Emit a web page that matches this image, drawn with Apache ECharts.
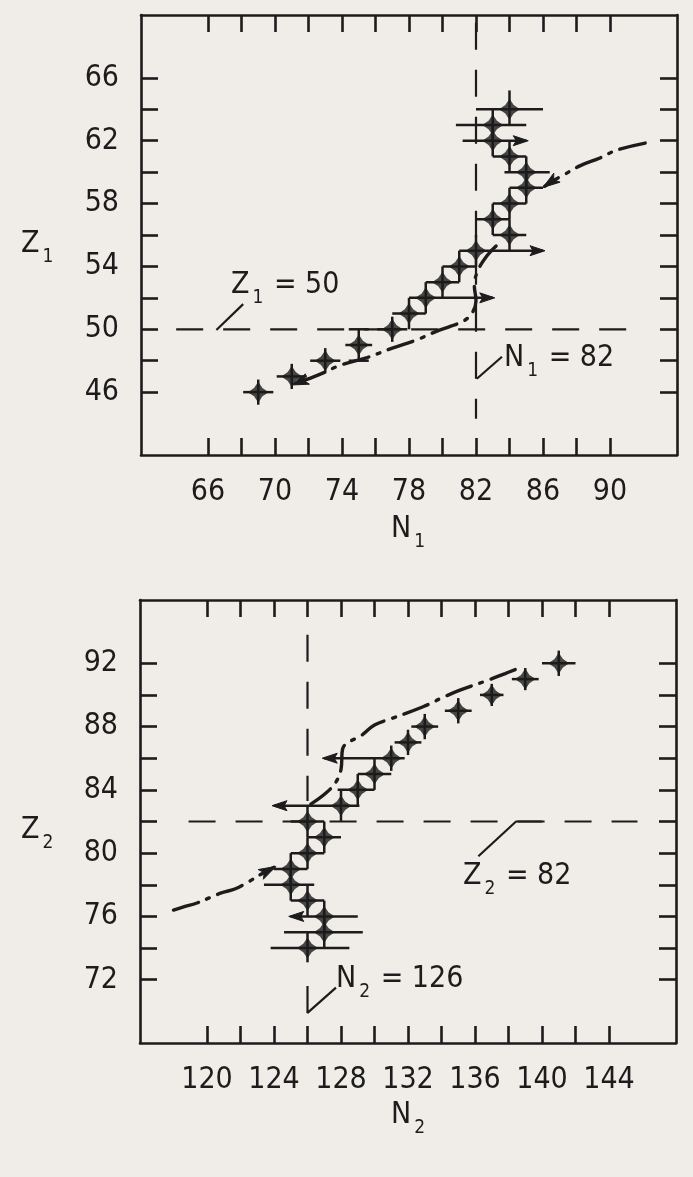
<!DOCTYPE html>
<html>
<head>
<meta charset="utf-8">
<script src="https://cdn.jsdelivr.net/npm/echarts@6/dist/echarts.min.js"></script>
<style>
  html, body { margin: 0; padding: 0; background: #f0ece7; }
  #chart { width: 693px; height: 1177px; }
</style>
</head>
<body>
<div id="chart"></div>
<script>
// ---- Upper panel: fragment 1 (N1, Z1) ----
const n1 = [69, 71, 73, 75, 77, 78, 79, 80, 81, 82, 84, 83, 84, 85, 85, 84, 83, 83, 84];
const z1 = [46, 47, 48, 49, 50, 51, 52, 53, 54, 55, 56, 57, 58, 59, 60, 61, 62, 63, 64];
const n1Lo = [68.1, 70.1, 72.1, 74.2, 76.1, 77, 78, 79, 80, 81, 83, 82, 83, 84, 83.7, 83, 81.2, 80.8, 82];
const n1Hi = [69.9, 71.9, 73.9, 75.8, 77.9, 79, 83, 81, 82, 86, 85, 84, 85, 86, 86.4, 85, 85, 85, 86];
const z1Lo = [45.2, 46.2, 47.2, 48, 49.2, 50, 51, 52, 53, 54, 55, 56, 57, 58, 59, 60, 61, 62, 63];
const z1Hi = [46.8, 47.8, 48.8, 50, 50.8, 52, 53, 54, 55, 56, 57, 58, 59, 60, 61, 62, 63, 64, 65.2];
const n1Arrow = [0, 0, 0, 0, 0, 0, 1, 0, 0, 1, 0, 0, 0, 0, 0, 0, 1, 0, 0];
const z1Cap = [0, 0, 0, 1, 0, 0, 0, 0, 0, 0, 0, 0, 0, 0, 0, 0, 0, 0, 0];

// calculated paths (dash-dot)
const curve1aN = [92.1, 90.4, 89.4, 88.2, 87.2, 86.5, 86.1];
const curve1aZ = [61.85, 61.4, 60.9, 60.4, 59.8, 59.4, 59.1];
const curve1bN = [83.2, 82.6, 82.1, 81.9, 82.0, 81.8, 81.3, 80.5, 79.6, 78.4, 77.0, 75.5, 74.0, 72.6, 71.1];
const curve1bZ = [55.3, 54.6, 53.7, 52.8, 51.8, 51.1, 50.55, 50.2, 49.85, 49.3, 48.8, 48.2, 47.75, 47.1, 46.5];

const x1Ticks = [66, 68, 70, 72, 74, 76, 78, 80, 82, 84, 86, 88, 90];
const x1Labels = [66, 70, 74, 78, 82, 86, 90];
const y1Ticks = [46, 48, 50, 52, 54, 56, 58, 60, 62, 64, 66];
const y1Labels = [46, 50, 54, 58, 62, 66];
const shellZ1 = 50;
const shellN1 = 82;

// ---- Lower panel: fragment 2 (N2, Z2) ----
const n2 = [126, 127, 127, 126, 125, 125, 126, 127, 126, 128, 129, 130, 131, 132, 133, 135, 137, 139, 141];
const z2 = [74, 75, 76, 77, 78, 79, 80, 81, 82, 83, 84, 85, 86, 87, 88, 89, 90, 91, 92];
const n2Lo = [123.8, 124.6, 125, 125, 123.4, 124, 125, 126, 125, 124, 127.8, 129, 127, 131.2, 132.2, 134.2, 136.3, 138.2, 140];
const n2Hi = [128.5, 129.3, 129, 127, 126.4, 126, 127, 128, 127, 129.1, 130, 131, 131.8, 132.8, 133.8, 135.8, 137.7, 139.8, 142];
const z2Lo = [73.1, 74, 75, 76, 77, 78, 79, 80, 81, 82, 83, 84, 85.2, 86.2, 87.2, 88.2, 89.3, 90.3, 91.2];
const z2Hi = [75, 76, 77, 78, 79, 80, 81, 82, 83, 84, 85, 86, 86.8, 87.8, 88.8, 89.8, 90.7, 91.7, 92.8];
const n2Arrow = [0, 0, -1, 0, 0, 0, 0, 0, 0, -1, 0, 0, -1, 0, 0, 0, 0, 0, 0];
const z2Cap = [0, 0, 0, 0, 0, 0, 0, 0, 0, 0, 0, 0, 0, 0, 0, 0, 0, 0, 0];

const curve2aN = [118.0, 118.6, 119.4, 120.2, 120.9, 121.7, 122.5, 123.2, 124.0];
const curve2aZ = [76.4, 76.6, 76.85, 77.2, 77.5, 77.75, 78.2, 78.65, 79.1];
const curve2bN = [138.4, 137.8, 136.7, 135.1, 134.0, 132.9, 131.0, 130.0, 129.3, 128.1, 128.0, 127.7, 127.1, 126.2];
const curve2bZ = [91.6, 91.35, 90.9, 90.3, 89.8, 89.25, 88.5, 88.1, 87.5, 86.6, 85.3, 84.5, 83.8, 83.1];

const x2Ticks = [120, 122, 124, 126, 128, 130, 132, 134, 136, 138, 140, 142, 144];
const x2Labels = [120, 124, 128, 132, 136, 140, 144];
const y2Ticks = [72, 74, 76, 78, 80, 82, 84, 86, 88, 90, 92];
const y2Labels = [72, 76, 80, 84, 88, 92];
const shellZ2 = 82;
const shellN2 = 126;

// ---- styling ----
const INK = '#1c1c1c';
const BG = '#f0ece7';
const FONT = "'Liberation Sans Narrow', 'DejaVu Sans Condensed', 'Liberation Sans', sans-serif";

function axis(kind, gridIndex, position, min, max, ticks, labels) {
  return {
    type: 'value', gridIndex, position, min, max,
    axisLine: { show: true, onZero: false, lineStyle: { color: INK, width: 2.6 } },
    axisTick: { show: true, inside: true, length: 17, customValues: ticks,
                lineStyle: { color: INK, width: 2.6 } },
    axisLabel: { show: !!labels, customValues: labels || [], margin: 22,
                 color: INK, fontFamily: FONT, fontSize: 30 },
    splitLine: { show: false }
  };
}

function zip(a, b) { return a.map((v, i) => [v, b[i]]); }

function errorBars(n, z, lo, hi, zlo, zhi, arrows, caps, ai) {
  return {
    type: 'custom', xAxisIndex: ai, yAxisIndex: ai, clip: false, z: 3,
    data: n.map((v, i) => [v, z[i], lo[i], hi[i], zlo[i], zhi[i], arrows[i], caps[i]]),
    renderItem(params, api) {
      const nv = api.value(0), zv = api.value(1);
      const l = api.coord([api.value(2), zv]), r = api.coord([api.value(3), zv]);
      const b = api.coord([nv, api.value(4)]), t = api.coord([nv, api.value(5)]);
      const st = { stroke: INK, lineWidth: 2.5, fill: null };
      const kids = [
        { type: 'line', shape: { x1: l[0], y1: l[1], x2: r[0], y2: r[1] }, style: st },
        { type: 'line', shape: { x1: b[0], y1: b[1], x2: t[0], y2: t[1] }, style: st }
      ];
      const a = api.value(6);
      if (a !== 0) {
        const tip = a > 0 ? r : l, d = a > 0 ? -1 : 1;
        kids.push({ type: 'polygon', shape: { points: [[tip[0] + d * -2, tip[1]], [tip[0] + d * 13, tip[1] - 5], [tip[0] + d * 10, tip[1]], [tip[0] + d * 13, tip[1] + 5]] },
                    style: { fill: INK, stroke: INK, lineWidth: 1 } });
      }
      if (api.value(7)) {
        [b, t].forEach(p => kids.push({ type: 'line', shape: { x1: p[0] - 10, y1: p[1], x2: p[0] + 10, y2: p[1] }, style: st }));
      }
      return { type: 'group', children: kids };
    }
  };
}

function points(n, z, ai) {
  return {
    type: 'scatter', xAxisIndex: ai, yAxisIndex: ai, z: 4, data: zip(n, z),
    symbol: 'path://M0,-10 L4,-4 L10,0 L4,4 L0,10 L-4,4 L-10,0 L-4,-4 Z',
    symbolSize: 21, itemStyle: { color: INK }, silent: true
  };
}

function dashDot(n, z, ai) {
  return {
    type: 'line', xAxisIndex: ai, yAxisIndex: ai, data: zip(n, z), smooth: 0.4,
    showSymbol: false, symbol: 'none', z: 2, silent: true,
    lineStyle: { color: INK, width: 3.4, type: [26, 9, 3, 9], cap: 'round' }
  };
}

// arrow head at the end of a path, oriented along its last segment
function pathArrows(paths, ai) {
  return {
    type: 'custom', xAxisIndex: ai, yAxisIndex: ai, clip: false, z: 3,
    data: paths.map(([n, z]) => [n[n.length - 1], z[z.length - 1], n[n.length - 2], z[z.length - 2]]),
    renderItem(params, api) {
      const tip = api.coord([api.value(0), api.value(1)]);
      const prev = api.coord([api.value(2), api.value(3)]);
      let dx = tip[0] - prev[0], dy = tip[1] - prev[1];
      const len = Math.hypot(dx, dy) || 1; dx /= len; dy /= len;
      const L = 15, W = 5.5, px = -dy, py = dx;
      return { type: 'polygon', shape: { points: [
        [tip[0] + dx * 2, tip[1] + dy * 2],
        [tip[0] - dx * L + px * W, tip[1] - dy * L + py * W],
        [tip[0] - dx * (L - 4), tip[1] - dy * (L - 4)],
        [tip[0] - dx * L - px * W, tip[1] - dy * L - py * W]
      ] }, style: { fill: INK, stroke: INK, lineWidth: 1 } };
    }
  };
}

function dashed(data, ai) {
  return {
    type: 'line', xAxisIndex: ai, yAxisIndex: ai, data, showSymbol: false, symbol: 'none',
    z: 1, silent: true, lineStyle: { color: INK, width: 2.2, type: [27, 20] }
  };
}

function solid(data, ai) {
  return {
    type: 'line', xAxisIndex: ai, yAxisIndex: ai, data, showSymbol: false, symbol: 'none',
    z: 1, silent: true, lineStyle: { color: INK, width: 2.2 }
  };
}

const rich = {
  m: { fontFamily: FONT, fontSize: 30, color: INK, verticalAlign: 'bottom', padding: [0, 0, 7, 0] },
  s: { fontFamily: FONT, fontSize: 19, color: INK, verticalAlign: 'bottom', padding: [0, 2, 0, 3] }
};
function label(x, y, text) {
  return { type: 'text', x, y, silent: true,
           style: { text, rich, fill: INK, verticalAlign: 'middle', align: 'left' } };
}

const chart = echarts.init(document.getElementById('chart'), null, { renderer: 'canvas' });
chart.setOption({
  backgroundColor: BG,
  animation: false,
  grid: [
    { left: 141, top: 15, width: 536, height: 440 },
    { left: 140, top: 600, width: 536, height: 443 }
  ],
  xAxis: [
    axis('x', 0, 'bottom', 62, 94, x1Ticks, x1Labels),
    axis('x', 0, 'top', 62, 94, x1Ticks, null),
    axis('x', 1, 'bottom', 116, 148, x2Ticks, x2Labels),
    axis('x', 1, 'top', 116, 148, x2Ticks, null)
  ],
  yAxis: [
    axis('y', 0, 'left', 42, 70, y1Ticks, y1Labels),
    axis('y', 0, 'right', 42, 70, y1Ticks, null),
    axis('y', 1, 'left', 68, 96, y2Ticks, y2Labels),
    axis('y', 1, 'right', 68, 96, y2Ticks, null)
  ],
  series: [
    // upper panel
    dashed([[64.1, shellZ1], [91.8, shellZ1]], 0),
    dashed([[shellN1, 69.5], [shellN1, 44.3]], 0),
    solid([[66.5, 49.95], [68.1, 51.6]], 0),
    solid([[82.05, 46.85], [83.55, 48.25]], 0),
    dashDot(curve1aN, curve1aZ, 0),
    dashDot(curve1bN, curve1bZ, 0),
    pathArrows([[curve1aN, curve1aZ], [curve1bN, curve1bZ]], 0),
    errorBars(n1, z1, n1Lo, n1Hi, z1Lo, z1Hi, n1Arrow, z1Cap, 0),
    points(n1, z1, 0),
    // lower panel
    dashed([[118.9, shellZ2], [145.7, shellZ2]], 2),
    dashed([[shellN2, 93.8], [shellN2, 83.3]], 2),
    solid([[shellN2, 71.6], [shellN2, 69.9], [127.7, 71.5]], 2),
    solid([[136.2, 79.8], [138.45, 82.0], [140.0, 82.0]], 2),
    dashDot(curve2aN, curve2aZ, 2),
    dashDot(curve2bN, curve2bZ, 2),
    pathArrows([[curve2aN, curve2aZ]], 2),
    errorBars(n2, z2, n2Lo, n2Hi, z2Lo, z2Hi, n2Arrow, z2Cap, 2),
    points(n2, z2, 2)
  ],
  graphic: [
    label(231, 289, '{m|Z}{s|1}{m| = 50}'),
    label(504, 362, '{m|N}{s|1}{m| = 82}'),
    label(463, 880, '{m|Z}{s|2}{m| = 82}'),
    label(336, 983, '{m|N}{s|2}{m| = 126}'),
    label(391, 533, '{m|N}{s|1}'),
    label(21, 248, '{m|Z}{s|1}'),
    label(391, 1119, '{m|N}{s|2}'),
    label(21, 834, '{m|Z}{s|2}')
  ]
});
</script>
</body>
</html>
